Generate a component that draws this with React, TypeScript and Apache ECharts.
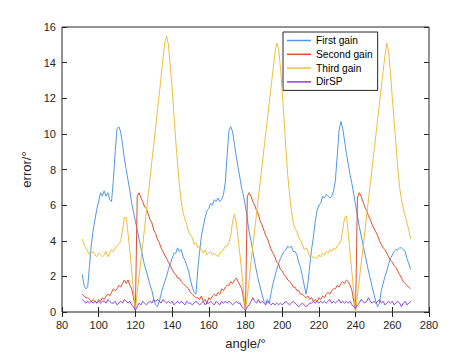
import React, { useEffect, useRef } from "react";
import * as echarts from "echarts";

const ANGLE_START = 91;
const X_TICKS = [80, 100, 120, 140, 160, 180, 200, 220, 240, 260, 280];
const Y_TICKS = [0, 2, 4, 6, 8, 10, 12, 14, 16];
const SERIES_NAMES = ["First gain", "Second gain", "Third gain", "DirSP"];

const firstGain = [
  2.1, 1.5, 1.3, 1.4, 2.6, 3.8, 4.6, 5.2, 5.8, 6.2,
  6.7, 6.5, 6.8, 6.5, 6.7, 6.3, 6.2, 7.4, 9.0, 10.3,
  10.4, 10.1, 9.4, 8.6, 8.0, 7.4, 6.8, 6.1, 5.6, 5.1,
  4.6, 4.1, 3.6, 3.1, 2.6, 2.3, 1.9, 1.5, 1.2, 0.7,
  0.4, 0.3, 0.6, 1.0, 1.4, 1.7, 2.0, 2.4, 2.7, 3.0,
  3.3, 3.3, 3.6, 3.4, 3.5, 3.1, 2.9, 2.6, 2.3, 1.8,
  1.4, 1.1, 1.0, 2.4, 3.4, 4.3, 4.8, 5.3, 5.7, 5.8,
  6.1, 6.0, 6.3, 6.2, 6.4, 6.2, 6.3, 6.6, 7.3, 8.8,
  10.2, 10.4, 10.1, 9.4, 8.7, 8.1, 7.5, 6.9, 6.5, 5.9,
  5.2, 4.5, 4.0, 3.4, 2.8, 2.3, 1.8, 1.4, 1.0, 0.6,
  0.5, 0.7, 0.5, 1.1, 1.6, 2.0, 2.4, 2.7, 3.0, 3.2,
  3.4, 3.5, 3.7, 3.6, 3.7, 3.4, 3.4, 3.2, 2.8, 2.5,
  2.0, 1.5, 1.0, 1.6, 2.6, 3.5, 4.2, 5.1, 5.7, 6.0,
  6.1, 6.5, 6.4, 6.6, 6.5, 6.4, 6.5, 6.8, 7.4, 8.8,
  10.2, 10.7, 10.3, 9.6, 8.9, 8.3, 7.7, 7.2, 6.6, 6.0,
  5.4, 4.8, 4.3, 3.8, 3.3, 2.8, 2.3, 1.9, 1.4, 1.0,
  0.6, 0.3, 0.5, 1.2, 1.6, 2.0, 2.3, 2.7, 3.0, 3.2,
  3.4, 3.5, 3.5, 3.6, 3.6, 3.5, 3.4, 3.0, 2.7, 2.4,
];

const secondGain = [
  1.0, 0.9, 0.8, 0.8, 0.7, 0.6, 0.7, 0.6, 0.5, 0.7,
  0.6, 0.8, 0.7, 0.9, 1.0, 0.9, 1.1, 1.3, 1.2, 1.3,
  1.5, 1.4, 1.6, 1.8, 1.6, 1.8, 1.5, 1.3, 0.8, 0.1,
  6.5, 6.7, 6.4, 6.2, 5.9, 5.8, 5.5, 5.2, 5.0, 4.6,
  4.4, 4.1, 3.9, 3.6, 3.4, 3.2, 3.0, 2.8, 2.6, 2.4,
  2.2, 2.1, 1.9, 1.9, 1.7, 1.6, 1.5, 1.4, 1.3, 1.1,
  1.0, 0.9, 0.8, 0.8, 0.7, 0.9, 0.6, 0.7, 0.5, 0.8,
  0.7, 0.9, 1.0, 0.9, 1.1, 1.0, 1.3, 1.2, 1.4, 1.5,
  1.5, 1.7, 1.6, 1.8, 1.9, 1.7, 1.5, 1.3, 0.7, 0.1,
  6.5, 6.7, 6.5, 6.2, 6.0, 5.7, 5.5, 5.1, 4.9, 4.6,
  4.3, 4.1, 3.8, 3.5, 3.3, 3.1, 2.8, 2.7, 2.4, 2.3,
  2.1, 2.0, 1.8, 1.7, 1.6, 1.4, 1.4, 1.2, 1.2, 1.0,
  1.0, 0.9, 0.8, 0.9, 0.7, 0.8, 0.6, 0.7, 0.6, 0.8,
  0.7, 0.9, 0.8, 1.0, 1.1, 1.0, 1.2, 1.3, 1.3, 1.5,
  1.4, 1.6, 1.7, 1.6, 1.8, 1.7, 1.5, 1.2, 0.6, 0.1,
  6.4, 6.7, 6.5, 6.2, 5.9, 5.7, 5.4, 5.2, 4.9, 4.7,
  4.5, 4.3, 4.0, 3.8, 3.6, 3.5, 3.3, 3.1, 2.9, 2.8,
  2.6, 2.5, 2.3, 2.1, 1.9, 1.7, 1.6, 1.5, 1.4, 1.3,
];

const thirdGain = [
  4.1, 3.8, 3.6, 3.4, 3.2, 3.3, 3.4, 3.2, 3.1, 3.3,
  3.2, 3.1, 3.2, 3.4, 3.1, 3.3, 3.5, 3.4, 3.6, 3.7,
  3.8, 4.0, 4.6, 5.3, 5.3, 4.4, 3.4, 2.3, 1.2, 0.1,
  1.1, 2.0, 2.9, 3.8, 4.7, 5.7, 6.6, 7.5, 8.5, 9.4,
  10.3, 11.3, 12.2, 13.2, 14.2, 15.1, 15.5, 15.0, 13.8, 12.6,
  11.1, 9.6, 8.3, 7.1, 6.2, 5.6, 5.2, 4.9, 4.5, 4.3,
  4.2, 3.8, 3.9, 3.6, 3.7, 3.5, 3.3, 3.5, 3.2, 3.3,
  3.4, 3.2, 3.3, 3.2, 3.1, 3.3, 3.4, 3.5, 3.7, 3.7,
  3.9, 4.3, 5.1, 5.5, 5.0, 4.1, 3.2, 2.2, 1.1, 0.1,
  0.9, 1.8, 2.8, 3.7, 4.6, 5.5, 6.4, 7.3, 8.2, 9.1,
  10.0, 10.9, 11.8, 12.7, 13.6, 14.5, 15.1, 14.8, 13.8, 12.4,
  10.8, 9.2, 7.7, 6.6, 5.7, 5.0, 4.7, 4.5, 4.2, 4.0,
  3.8, 3.5, 3.6, 3.4, 3.1, 3.2, 3.0, 3.1, 3.0, 3.2,
  3.1, 3.3, 3.2, 3.4, 3.3, 3.5, 3.4, 3.6, 3.5, 3.7,
  3.8, 4.0, 4.6, 5.3, 5.4, 4.4, 3.3, 2.2, 1.1, 0.0,
  0.9, 1.8, 2.7, 3.6, 4.5, 5.4, 6.3, 7.2, 8.1, 9.0,
  9.9, 10.8, 11.7, 12.6, 13.5, 14.4, 15.1, 14.6, 13.4, 12.0,
  10.7, 9.4, 8.1, 7.0, 6.3, 5.8, 5.4, 5.0, 4.6, 4.1,
];

const dirSP = [
  0.7, 0.6, 0.5, 0.6, 0.5, 0.6, 0.5, 0.6, 0.5, 0.6,
  0.5, 0.6, 0.6, 0.5, 0.7, 0.6, 0.5, 0.5, 0.6, 0.4,
  0.5, 0.6, 0.5, 0.7, 0.6, 0.5, 0.6, 0.4, 0.3, 0.1,
  0.3, 0.5, 0.4, 0.6, 0.5, 0.4, 0.5, 0.6, 0.5, 0.7,
  0.6, 0.7, 0.6, 0.5, 0.7, 0.6, 0.5, 0.6, 0.5, 0.6,
  0.4, 0.5, 0.6, 0.5, 0.6, 0.5, 0.4, 0.6, 0.5, 0.5,
  0.4, 0.5, 0.6, 0.5, 0.4, 0.5, 0.6, 0.4, 0.5, 0.5,
  0.6, 0.5, 0.4, 0.6, 0.5, 0.4, 0.6, 0.5, 0.6, 0.5,
  0.6, 0.5, 0.4, 0.5, 0.6, 0.5, 0.5, 0.3, 0.2, 0.1,
  0.3, 0.4, 0.6, 0.8, 0.6, 0.5, 0.7, 0.5, 0.6, 0.5,
  0.4, 0.6, 0.5, 0.4, 0.5, 0.4, 0.5, 0.4, 0.5, 0.4,
  0.5, 0.6, 0.5, 0.4, 0.5, 0.6, 0.5, 0.4, 0.3, 0.4,
  0.5, 0.4, 0.3, 0.4, 0.5, 0.5, 0.6, 0.5, 0.6, 0.5,
  0.6, 0.5, 0.6, 0.5, 0.6, 0.7, 0.5, 0.6, 0.5, 0.6,
  0.7, 0.5, 0.6, 0.5, 0.6, 0.5, 0.6, 0.4, 0.3, 0.2,
  0.4, 0.5, 0.7, 0.6, 0.5, 0.6, 0.8, 0.6, 0.5, 0.6,
  0.5, 0.6, 0.7, 0.5, 0.6, 0.4, 0.5, 0.6, 0.5, 0.6,
  0.4, 0.5, 0.6, 0.5, 0.3, 0.5, 0.6, 0.4, 0.5, 0.6,
];

const COLORS = ["#5298e6", "#df4f2c", "#ecbf3c", "#8a3fe3"];
const FONT = "'Liberation Sans', Arial, Helvetica, sans-serif";
const TEXT = "#262626";

export default function App() {
  const ref = useRef<HTMLDivElement>(null);
  useEffect(() => {
    if (!ref.current) return;
    const chart = echarts.init(ref.current, null, { renderer: "svg" });
    const allData = [firstGain, secondGain, thirdGain, dirSP];
    const toPairs = (vals: number[]) => vals.map((v, i) => [ANGLE_START + i, v]);
    const xMin = X_TICKS[0];
    const xMax = X_TICKS[X_TICKS.length - 1];
    const xInt = X_TICKS[1] - X_TICKS[0];
    const yMin = Y_TICKS[0];
    const yMax = Y_TICKS[Y_TICKS.length - 1];
    const yInt = Y_TICKS[1] - Y_TICKS[0];
    const tickStyle = { show: true, inside: true, length: 5, lineStyle: { color: TEXT, width: 1 } };
    chart.setOption({
      animation: false,
      backgroundColor: "#ffffff",
      textStyle: { fontFamily: FONT },
      grid: {
        left: 62,
        right: 45,
        top: 27,
        bottom: 40,
        show: true,
        borderColor: TEXT,
        borderWidth: 1,
        backgroundColor: "transparent",
      },
      legend: {
        orient: "vertical",
        left: 283,
        top: 32,
        padding: [3, 5, 3, 4],
        icon: "rect",
        itemWidth: 24,
        itemHeight: 1.5,
        itemGap: 2.8,
        backgroundColor: "#ffffff",
        borderColor: TEXT,
        borderWidth: 1,
        borderRadius: 0,
        textStyle: { fontSize: 10.2, color: "#000", fontFamily: FONT, lineHeight: 11 },
        data: SERIES_NAMES,
      },
      xAxis: [
        {
          type: "value",
          min: xMin,
          max: xMax,
          interval: xInt,
          name: "angle/°",
          nameLocation: "middle",
          nameGap: 25,
          nameTextStyle: { fontSize: 13, color: TEXT, fontFamily: FONT },
          axisLine: { show: false },
          axisTick: tickStyle,
          axisLabel: { fontSize: 11, color: TEXT, margin: 7, fontFamily: FONT },
          splitLine: { show: false },
        },
        {
          type: "value",
          position: "top",
          min: xMin,
          max: xMax,
          interval: xInt,
          axisLine: { show: false },
          axisTick: tickStyle,
          axisLabel: { show: false },
          splitLine: { show: false },
        },
      ],
      yAxis: [
        {
          type: "value",
          min: yMin,
          max: yMax,
          interval: yInt,
          name: "error/°",
          nameLocation: "middle",
          nameGap: 23,
          nameTextStyle: { fontSize: 13, color: TEXT, fontFamily: FONT },
          axisLine: { show: false },
          axisTick: tickStyle,
          axisLabel: { fontSize: 11, color: TEXT, margin: 6, fontFamily: FONT },
          splitLine: { show: false },
        },
        {
          type: "value",
          position: "right",
          min: yMin,
          max: yMax,
          interval: yInt,
          axisLine: { show: false },
          axisTick: tickStyle,
          axisLabel: { show: false },
          splitLine: { show: false },
        },
      ],
      series: SERIES_NAMES.map((name, i) => ({
        name,
        type: "line",
        data: toPairs(allData[i]),
        symbol: "none",
        showSymbol: false,
        color: COLORS[i],
        itemStyle: { color: COLORS[i] },
        lineStyle: { width: 1, color: COLORS[i] },
        xAxisIndex: 0,
        yAxisIndex: 0,
        z: 2 + i,
      })),
    });
    return () => chart.dispose();
  }, []);
  return (
    <div
      ref={ref}
      style={{ position: "fixed", left: 0, top: 0, width: 474, height: 355 }}
    />
  );
}
